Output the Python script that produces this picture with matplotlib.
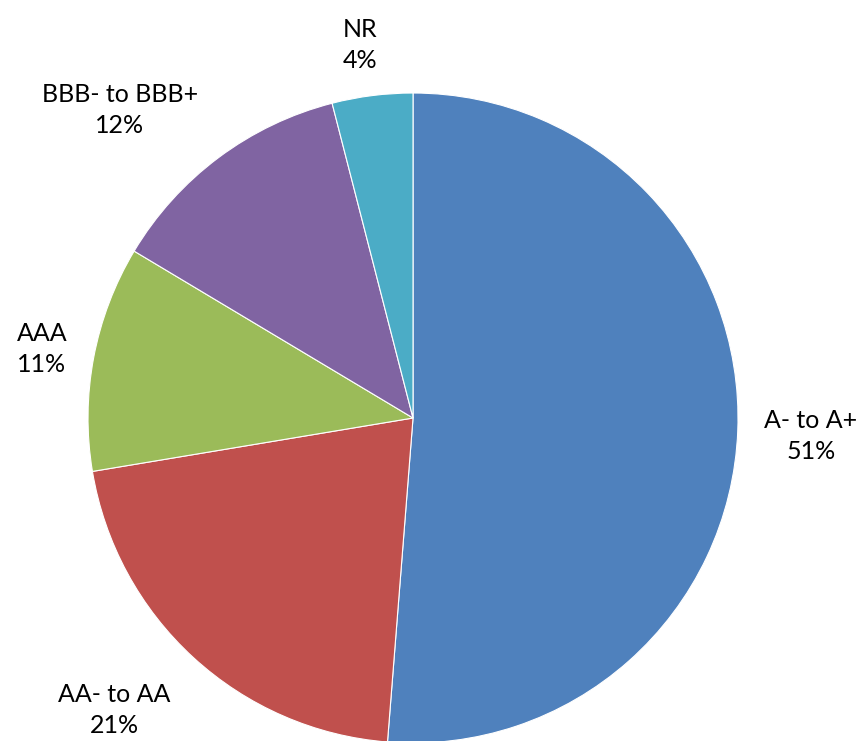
import matplotlib
matplotlib.use("Agg")
import matplotlib.pyplot as plt

# rating split of the portfolio, clockwise from 12 o'clock
ratings = ["A- to A+", "AA- to AA", "AAA", "BBB- to BBB+", "NR"]
shares = [51.2, 21.1, 11.2, 12.4, 4.0]
colors = ["#4F81BD", "#C0504D", "#9BBB59", "#8064A2", "#4BACC6"]

# label centres in axes units (pie radius = 1)
label_xy = [(1.224, -0.055), (-0.92, -0.898), (-1.142, 0.212),
            (-0.902, 0.948), (-0.163, 1.148)]

plt.rcParams["font.family"] = ["Lato", "DejaVu Sans"]

fig = plt.figure(figsize=(8.62, 7.41), dpi=100)
ax = fig.add_axes([0, 0, 1, 1])

ax.pie(shares, colors=colors, startangle=90, counterclock=False,
       radius=1.0, center=(0, 0),
       wedgeprops=dict(edgecolor="white", linewidth=0.8))

for name, val, (x, y) in zip(ratings, shares, label_xy):
    ax.text(x, y, f"{name}\n{val:.0f}%", ha="center", va="center",
            fontsize=18, linespacing=1.4, color="black")

ax.set_aspect("equal")
ax.set_xlim(-1.2708, 1.3815)
ax.set_ylim(-0.9938, 1.2862)
ax.axis("off")

fig.savefig("out.png", dpi=100)
